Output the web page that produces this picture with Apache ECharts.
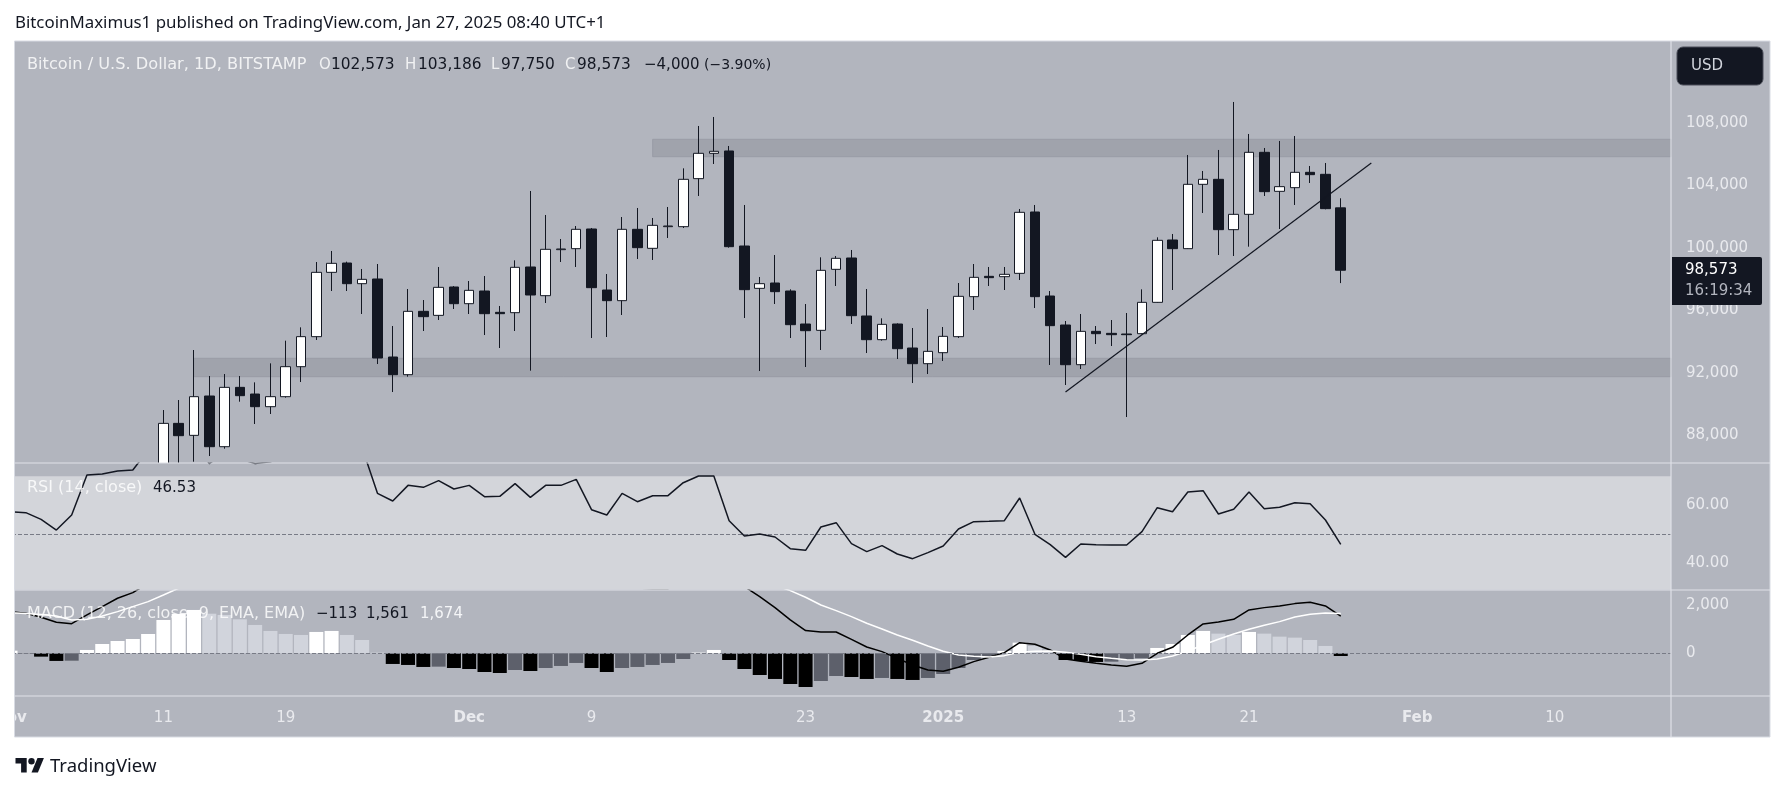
<!DOCTYPE html>
<html>
<head>
<meta charset="utf-8">
<title>Bitcoin / U.S. Dollar, 1D</title>
<style>html,body{margin:0;padding:0;background:#fff}#chart{width:1785px;height:791px}</style>
<script src="https://cdn.jsdelivr.net/npm/echarts@6/dist/echarts.min.js"></script>
</head>
<body>
<div id="chart"></div>
<script>
// Daily sessions shown on the chart, 1 Nov 2024 to 27 Jan 2025.
function sessionList(startIso, count) {
  const out = [];
  for (let i = 0; i < count; i++) out.push(new Date(Date.parse(startIso) + i * 864e5).toISOString().slice(0, 10));
  return out;
}
const sessionDates = sessionList('2024-11-01', 88);
const candleDates = sessionDates.slice(10);

const opens = [80400,88759,87990,90512,87263,91067,90640,89828,90469,92392,94316,98440,99038,97713,98013,93012,91879,95940,95683,97500,
  96431,97243,95876,95854,98782,96944,99893,99957,101218,97307,96624,101197,99979,101368,101368,104445,106069,106219,100128,97414,97756,97243,95128,94722,98632,99359,95641,94123,95128,93589,92585,
  93290,94316,96880,98184,98162,98376,102308,96923,95064,92520,94657,94529,94487,94508,96517,100513,99957,104082,104402,101175,102158,106133,103633,103868,104851,104723,102573];
const closes = [88759,87969,90469,87263,91067,90533,89828,90469,92392,94316,98440,99017,97713,97991,92948,91879,95940,95598,97478,96431,
  97286,95790,95790,98761,96987,99915,99936,101197,97457,96624,101197,100021,101453,101410,104402,106069,106197,100085,97329,97713,97201,95085,94700,98568,99338,95662,94123,95106,93546,92585,93375,
  94337,96901,98119,98098,98312,102287,96880,95021,92520,94657,94508,94444,94444,96517,100492,99957,104082,104402,101175,102158,106133,103612,103932,104851,104701,102522,98573];
const lows = [80200,85000,86302,86665,87135,90148,88717,89358,90405,91409,94102,97243,97243,95769,92563,90768,91751,94679,95384,96089,
  95769,94422,93589,94679,92136,96474,99102,98782,94230,94294,95705,99295,99231,100641,101282,103334,105385,100021,95512,92114,96410,94230,92371,93461,97564,95128,93268,94059,92884,91345,91922,
  92756,94230,96025,97564,97307,97948,96153,92499,91217,92243,93845,93717,89165,94465,96495,97307,99936,102244,99551,99487,100085,103334,101218,102757,104167,102479,97750];
const highs = [89614,90255,93461,91794,91922,91794,91388,92606,94059,94914,99102,99808,99124,98654,98974,94999,97371,96666,98782,97560,
  97884,98205,96282,99209,103654,102116,100577,101410,101282,98333,101987,102564,101923,102629,105107,107821,108398,106539,102757,98141,99551,97350,96410,99402,99487,99872,97371,95491,95170,94871,96089,
  94935,97756,98974,98782,98782,102500,102757,97243,95320,95769,94999,95384,95833,97350,100684,100898,105962,104936,106283,109360,107309,106411,106860,107180,105257,105449,103186];

const rsi = [57.8,57.46,55.16,51.48,56.66,70.45,70.79,71.83,72.17,79,
  85,81,82,74.4,78,76,74.4,75,77,79,83,84,81,79.8,
  64.13,61.48,66.88,66.2,68.5,65.62,66.88,62.98,63.09,67.46,62.75,66.88,66.88,68.95,58.49,56.66,64.13,61.25,63.32,63.32,67.8,
  70.1,70.1,54.7,49.41,50.1,49.07,45.05,44.47,52.52,54.01,46.77,44.01,46.08,43.2,41.6,43.67,45.97,51.83,54.36,54.47,
  54.7,62.52,49.99,46.42,42.06,46.66,46.42,46.31,46.31,50.91,59.18,57.8,64.59,65.05,57,58.61,64.59,58.84,59.3,60.91,60.56,54.93,46.53];
const macdHistogram = [110,-5,-140,-320,-310,140,390,517,600,810,
  1398,1650,1817,1660,1608,1426,1188,937,811,769,895,937,769,559,28,
  -447,-489,-573,-560,-615,-657,-783,-825,-699,-741,-615,-531,-405,-615,-783,-615,-573,-489,-405,-238,
  30,140,-280,-657,-909,-1076,-1286,-1412,-1160,-951,-993,-1076,-1034,-1076,-1118,-1034,-867,-615,-280,-140,
  100,447,308,112,-280,-322,-363,-350,-280,-210,224,391,769,937,825,769,895,825,699,657,559,308,-113];
const macdLine = [1747,1678,1510,1300,1244,1608,1957,2307,2544,2929,
  3797,4379,4909,5084,5354,5457,5457,5393,5429,5541,5846,6075,6061,5963,5438,
  4874,4734,4535,4423,4258,4085,3802,3595,3581,3391,3394,3372,3417,3084,2759,2804,2731,2717,2720,2839,
  3100,3250,3000,2796,2377,1915,1398,951,895,895,587,266,70,-210,-489,-699,-755,-587,-350,-168,
  28,447,377,140,-238,-336,-419,-489,-545,-419,0,252,769,1230,1314,1426,1817,1915,1985,2083,2139,1985,1561];
const signalLine = [1700,1670,1630,1560,1400,1426,1566,1747,1957,2167,
  2446,2729,3092,3424,3746,4031,4269,4456,4618,4772,4951,5138,5292,5404,5410,
  5330,5240,5130,5030,4920,4800,4660,4510,4380,4250,4140,4050,3980,3870,3740,3640,3550,3470,3410,3390,
  3400,3420,3370,3240,3060,2850,2628,2349,2027,1789,1538,1258,1021,769,545,308,84,-70,-126,-154,
  -98,42,84,98,42,-42,-140,-210,-266,-280,-238,-112,98,350,587,811,1007,1174,1328,1524,1636,1692,1674];

// Supply and demand zones and the rising trendline.
const upperZone = {from: '2024-12-13', prices: [106968, 105852]};
const lowerZone = {from: '2024-11-13', prices: [92930, 91750]};
const trendDates = ['2025-01-09', '2025-01-29'];
const trendPrices = [90770, 105449];

// Time-axis labels.
const tickDates = ['2024-11-01','2024-11-11','2024-11-19','2024-12-01','2024-12-09','2024-12-23','2025-01-01','2025-01-13','2025-01-21','2025-02-01','2025-02-10'];
const tickTexts = ['Nov','11','19','Dec','9','23','2025','13','21','Feb','10'];
const priceTicks = [88000,92000,96000,100000,104000,108000];
const rsiTicks = [40,60];
const macdTicks = [0,2000];

const FONT = '"Noto Sans", sans-serif';
const UI_FONT = '"DejaVu Sans", sans-serif';
const UI_SIZE = 15;
const LABEL_SIZE = 16;
const INK = '#131722';
const AXIS_TEXT = '#e9eaee';
const dayOf = iso => (Date.parse(iso) - Date.parse('2024-11-01')) / 864e5;
const grouped = v => Math.abs(v).toLocaleString('en-US');
const signed = v => (v < 0 ? '\u2212' : '') + grouped(v);

const PANE_LEFT = 0, PANE_RIGHT = 1671, FRAME_LEFT = 14.5;
const xMin = -0.687, xMax = 108.6;

function timeAxis(gridIndex, visible) {
  return {
    type: 'value', gridIndex, min: xMin, max: xMax, show: visible, containShape: false,
    axisLine: {show: false}, axisTick: {show: false}, splitLine: {show: false},
    axisLabel: {
      show: visible, margin: 15, fontFamily: UI_FONT, fontSize: UI_SIZE, color: AXIS_TEXT,
      customValues: tickDates.map(dayOf),
      formatter: v => {
        const text = tickTexts[tickDates.map(dayOf).indexOf(v)];
        return /[A-Za-z]|2025/.test(text) ? '{strong|' + text + '}' : text;
      },
      rich: {strong: {fontFamily: UI_FONT, fontSize: UI_SIZE, fontWeight: 600, color: AXIS_TEXT}}
    }
  };
}
function valueAxis(gridIndex, min, max, ticks, format, lift) {
  return {
    type: 'value', gridIndex, position: 'right', min, max, scale: true,
    axisLine: {show: false}, axisTick: {show: false}, splitLine: {show: false},
    axisLabel: {
      margin: 15, fontFamily: UI_FONT, fontSize: UI_SIZE, color: AXIS_TEXT, align: 'left',
      customValues: ticks, formatter: format, padding: lift
    }
  };
}

const last = opens.length - 1;
const changeValue = closes[last] - opens[last];
const changePct = changeValue / opens[last] * 100;
const lastOf = list => list[list.length - 1];

// Text rows of the chart legend: [text, x, y, colour, size, family].
const LEGEND_WHITE = 'rgba(255,255,255,0.82)';
const textRows = [
  ['BitcoinMaximus1 published on TradingView.com, Jan 27, 2025 08:40 UTC+1', 15, 23.5, INK, 16.85, FONT],
  ['Bitcoin / U.S. Dollar, 1D, BITSTAMP', 27, 65, LEGEND_WHITE, 16.2, UI_FONT],
  ['O', 319, 65, LEGEND_WHITE, UI_SIZE, UI_FONT], [grouped(opens[last]), 331, 65, INK, 15.4, UI_FONT],
  ['H', 405, 65, LEGEND_WHITE, UI_SIZE, UI_FONT], [grouped(highs[last]), 418, 65, INK, 15.4, UI_FONT],
  ['L', 491, 65, LEGEND_WHITE, UI_SIZE, UI_FONT], [grouped(lows[last]), 501, 65, INK, 15.4, UI_FONT],
  ['C', 565, 65, LEGEND_WHITE, UI_SIZE, UI_FONT], [grouped(closes[last]), 577, 65, INK, 15.4, UI_FONT],
  [signed(changeValue), 644, 65, INK, UI_SIZE, UI_FONT],
  ['(' + (changePct < 0 ? '\u2212' : '') + Math.abs(changePct).toFixed(2) + '%)', 704, 65, INK, 14, UI_FONT],
  ['RSI (14, close)', 27, 488, LEGEND_WHITE, LABEL_SIZE, UI_FONT], [lastOf(rsi).toFixed(2), 153, 488, INK, UI_SIZE, UI_FONT],
  ['MACD (12, 26, close, 9, EMA, EMA)', 27, 614, LEGEND_WHITE, LABEL_SIZE, UI_FONT],
  [signed(lastOf(macdHistogram)), 316, 614, INK, UI_SIZE, UI_FONT],
  [grouped(lastOf(macdLine)), 366, 614, INK, UI_SIZE, UI_FONT],
  [grouped(lastOf(signalLine)), 420, 614, '#f4f5f7', UI_SIZE, UI_FONT],
  ['USD', 1691, 66.5, '#d1d4dc', UI_SIZE, UI_FONT],
  [grouped(closes[last]), 1685, 270, '#ffffff', UI_SIZE, UI_FONT],
  ['16:19:34', 1685, 291, '#b2b5be', UI_SIZE, UI_FONT],
  ['TradingView', 50, 766.5, INK, 18.5, FONT]
];

const frameLines = [
  [FRAME_LEFT, 463, 1770, 463], [FRAME_LEFT, 590, 1770, 590], [FRAME_LEFT, 696, 1770, 696], [1671, 41, 1671, 737]
];

const graphicElements = [
  {type: 'rect', z: -1, shape: {x: FRAME_LEFT, y: 41, width: 1770 - FRAME_LEFT, height: 696}, style: {fill: '#b2b5be'}},
  // Hides candle parts that run below the price pane; indicator marks sit above it.
  {type: 'rect', z: 3, shape: {x: FRAME_LEFT, y: 463, width: 1671 - FRAME_LEFT, height: 127}, style: {fill: '#b2b5be'}},
  {type: 'rect', z: 50, shape: {x: 0, y: 0, width: FRAME_LEFT, height: 791}, style: {fill: '#ffffff'}},
  {type: 'rect', z: 50, shape: {x: FRAME_LEFT, y: 737, width: 400, height: 54}, style: {fill: '#ffffff'}},
  {type: 'rect', z: 51, shape: {x: FRAME_LEFT, y: 41, width: 1770 - FRAME_LEFT, height: 696}, style: {fill: 'none', stroke: '#d8dbe3', lineWidth: 1}},
  ...frameLines.map(l => ({type: 'line', z: 51, shape: {x1: l[0], y1: l[1], x2: l[2], y2: l[3]}, style: {stroke: '#dfe1e8', lineWidth: 1.2}})),
  {type: 'rect', z: 52, shape: {x: 1677, y: 47, width: 86, height: 38, r: 6}, style: {fill: INK, stroke: '#4a4d58', lineWidth: 1}},
  {type: 'rect', z: 52, shape: {x: 1672, y: 257, width: 90, height: 48, r: [0, 2, 2, 0]}, style: {fill: INK}},
  // TradingView mark: the T, the dot and the slanted V
  {type: 'polygon', z: 52, shape: {points: [[15.5,758],[26.7,758],[26.7,772.4],[21.1,772.4],[21.1,763.6],[15.5,763.6]]}, style: {fill: INK}},
  {type: 'circle', z: 52, shape: {cx: 31.5, cy: 761.2, r: 3.2}, style: {fill: INK}},
  {type: 'polygon', z: 52, shape: {points: [[37.5,758],[43.9,758],[37.9,772.4],[31.5,772.4]]}, style: {fill: INK}},
  ...textRows.map(r => ({
    type: 'text', z: 53, x: r[1], y: r[2],
    style: {text: r[0], fill: r[3], font: r[4] + 'px ' + r[5], verticalAlign: 'middle', align: 'left'}
  }))
];

function zoneArea(zone) {
  return [{coord: [dayOf(zone.from), zone.prices[0]]}, {coord: [xMax, zone.prices[1]]}];
}
const seriesPoints = list => list.map((v, i) => [dayOf(sessionDates[i]), v]);

// Histogram tint follows the sign of the value and whether it rose or fell.
function histogramColor(i) {
  const v = macdHistogram[i];
  const prev = i > 0 ? macdHistogram[i - 1] : 0;
  if (v >= 0) return v >= prev ? '#ffffff' : '#d1d4dc';
  return v <= prev ? '#000000' : '#5d606b';
}

const option = {
  animation: false,
  backgroundColor: '#ffffff',
  grid: [
    {left: PANE_LEFT, width: PANE_RIGHT, top: 41, height: 422, outerBoundsMode: 'none'},
    {left: PANE_LEFT, width: PANE_RIGHT, top: 463, height: 126.6, outerBoundsMode: 'none'},
    {left: PANE_LEFT, width: PANE_RIGHT, top: 590, height: 106, outerBoundsMode: 'none'}
  ],
  xAxis: [timeAxis(0, false), timeAxis(1, false), timeAxis(2, true)],
  yAxis: [
    valueAxis(0, 86218, 113269, priceTicks, v => grouped(v), [0, 0, 2, 0]),
    valueAxis(1, 30.93, 74.59, rsiTicks, v => v.toFixed(2), [4, 0, 0, 0]),
    valueAxis(2, -1790, 2654, macdTicks, v => grouped(v), [6, 0, 0, 0])
  ],
  graphic: {elements: graphicElements},
  series: [
    {
      name: 'BTCUSD', type: 'candlestick', xAxisIndex: 0, yAxisIndex: 0, clip: true, barWidth: 10,
      data: candleDates.map((d, i) => [dayOf(d), opens[i], closes[i], lows[i], highs[i]]),
      itemStyle: {color: '#ffffff', color0: INK, borderColor: INK, borderColor0: INK, borderWidth: 1},
      markArea: {
        silent: true,
        itemStyle: {color: '#a0a3ac', borderColor: '#999ca6', borderWidth: 1},
        data: [zoneArea(upperZone), zoneArea(lowerZone)]
      }
    },
    {
      name: 'Trendline', type: 'line', xAxisIndex: 0, yAxisIndex: 0, symbol: 'none', silent: true,
      data: trendDates.map((d, i) => [dayOf(d), trendPrices[i]]),
      lineStyle: {color: INK, width: 1.2}
    },
    {
      name: 'RSI', type: 'line', xAxisIndex: 1, yAxisIndex: 1, symbol: 'none', clip: true, silent: true, z: 6,
      data: seriesPoints(rsi),
      lineStyle: {color: INK, width: 1.5},
      markArea: {silent: true, z: 4, itemStyle: {color: '#d3d5da'}, data: [[{yAxis: 70}, {yAxis: 30.93}]]},
      markLine: {silent: true, z: 5, symbol: 'none', label: {show: false},
        lineStyle: {color: '#787b86', type: 'dashed', width: 1}, data: [{yAxis: 50}]}
    },
    {
      name: 'Histogram', type: 'bar', xAxisIndex: 2, yAxisIndex: 2, barWidth: 14, silent: true,
      data: seriesPoints(macdHistogram),
      itemStyle: {color: p => histogramColor(p.dataIndex)},
      markLine: {silent: true, symbol: 'none', label: {show: false},
        lineStyle: {color: '#787b86', type: 'dashed', width: 1}, data: [{yAxis: 0}]}
    },
    {
      name: 'MACD', type: 'line', xAxisIndex: 2, yAxisIndex: 2, symbol: 'none', clip: true, silent: true, z: 4,
      data: seriesPoints(macdLine), lineStyle: {color: '#000000', width: 1.5}
    },
    {
      name: 'Signal', type: 'line', xAxisIndex: 2, yAxisIndex: 2, symbol: 'none', clip: true, silent: true, z: 4,
      data: seriesPoints(signalLine), lineStyle: {color: '#ffffff', width: 1.5}
    }
  ]
};

const chart = echarts.init(document.getElementById('chart'), null, {renderer: 'canvas'});
chart.setOption(option);
</script>
</body>
</html>
